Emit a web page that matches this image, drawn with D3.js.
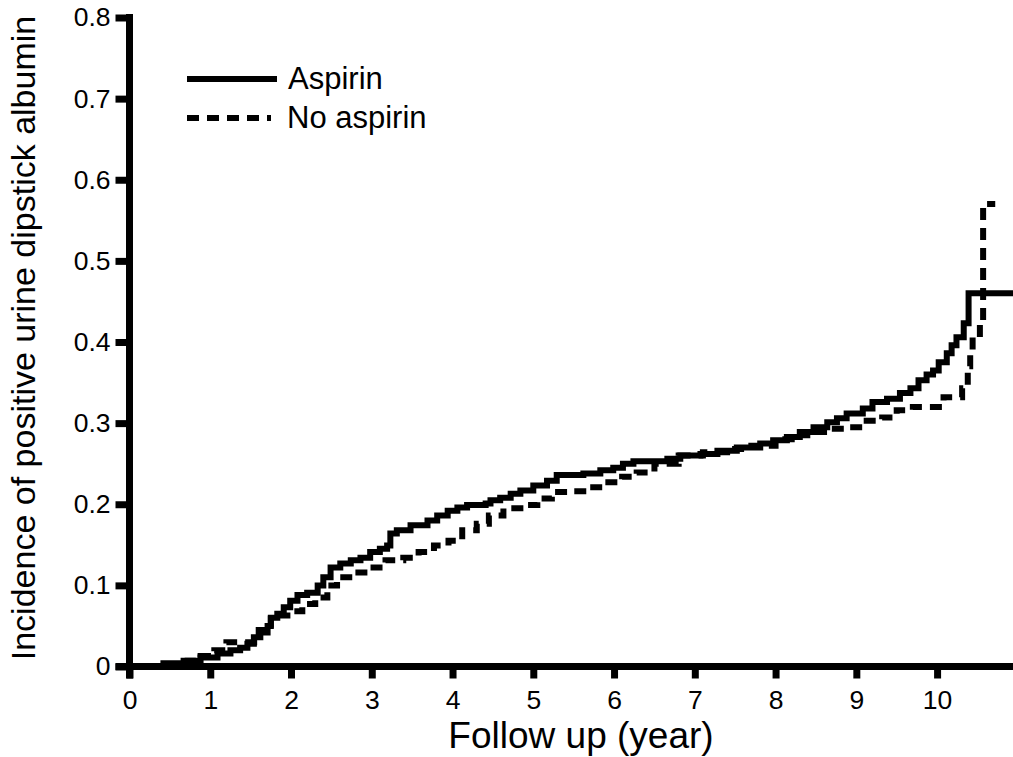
<!DOCTYPE html>
<html>
<head>
<meta charset="utf-8">
<script src="https://cdn.jsdelivr.net/npm/d3@7"></script>
<style>
  body { margin: 0; background: #fff; }
  text { font-family: "Liberation Sans", Arial, sans-serif; fill: #000; }
</style>
</head>
<body>
<svg width="1013" height="757"></svg>
<script>
// cumulative incidence (step curves)
const aspirinTime = [0, 0.42, 0.67, 0.88, 1.09, 1.25, 1.37, 1.46, 1.54, 1.62, 1.71, 1.75, 1.83, 1.91, 1.99, 2.08, 2.2, 2.33,
  2.4, 2.49, 2.61, 2.74, 2.86, 2.98, 3.1, 3.19, 3.23, 3.31, 3.48, 3.69, 3.81, 3.94, 4.06, 4.18, 4.41, 4.47, 4.59, 4.72,
  4.84, 5.0, 5.17, 5.29, 5.62, 5.83, 5.99, 6.11, 6.24, 6.66, 6.82, 7.07, 7.28, 7.52, 7.81, 7.97, 8.14, 8.3, 8.47, 8.64,
  8.76, 8.88, 9.08, 9.2, 9.38, 9.54, 9.67, 9.77, 9.87, 9.95, 10.02, 10.12, 10.18, 10.24, 10.33, 10.39, 10.94];
const aspirinValue = [0, 0.004, 0.007, 0.011, 0.016, 0.02, 0.023, 0.028, 0.036, 0.042, 0.05, 0.06, 0.065, 0.073, 0.081,
  0.088, 0.091, 0.1, 0.11, 0.122, 0.127, 0.131, 0.134, 0.141, 0.145, 0.149, 0.164, 0.168, 0.174, 0.18, 0.186, 0.192,
  0.196, 0.199, 0.201, 0.205, 0.208, 0.213, 0.217, 0.223, 0.229, 0.236, 0.238, 0.242, 0.245, 0.25, 0.253, 0.256, 0.26,
  0.262, 0.266, 0.27, 0.275, 0.279, 0.283, 0.289, 0.295, 0.301, 0.306, 0.312, 0.318, 0.326, 0.33, 0.337, 0.343, 0.353,
  0.36, 0.365, 0.375, 0.386, 0.396, 0.406, 0.423, 0.46, 0.46];

const noAspirinTime = [0, 0.5, 0.72, 0.88, 1.05, 1.2, 1.45, 1.6, 1.75, 2.0, 2.14, 2.3, 2.45, 2.57, 2.77, 2.98, 3.17,
  3.39, 3.58, 3.77, 3.95, 4.12, 4.3, 4.45, 4.63, 4.84, 5.05, 5.23, 5.48, 5.68, 5.89, 6.1, 6.28, 6.5, 6.8, 7.1, 7.4,
  7.7, 8.0, 8.2, 8.43, 8.65, 8.9, 9.08, 9.32, 9.5, 9.7, 10.08, 10.31, 10.38, 10.41, 10.44, 10.53, 10.57, 10.72];
const noAspirinValue = [0, 0.003, 0.007, 0.013, 0.02, 0.03, 0.03, 0.045, 0.063, 0.068, 0.077, 0.085, 0.1, 0.11, 0.116,
  0.122, 0.131, 0.134, 0.141, 0.149, 0.155, 0.168, 0.176, 0.186, 0.195, 0.199, 0.207, 0.215, 0.216, 0.221, 0.227,
  0.234, 0.239, 0.25, 0.26, 0.264, 0.268, 0.272, 0.28, 0.285, 0.289, 0.293, 0.295, 0.303, 0.307, 0.316, 0.32, 0.332,
  0.343, 0.37, 0.39, 0.41, 0.425, 0.57, 0.57];

const xTicks = [0, 1, 2, 3, 4, 5, 6, 7, 8, 9, 10];
const yTicks = [0, 0.1, 0.2, 0.3, 0.4, 0.5, 0.6, 0.7, 0.8];
const yTickLabels = ["0", "0.1", "0.2", "0.3", "0.4", "0.5", "0.6", "0.7", "0.8"];
const seriesNames = ["Aspirin", "No aspirin"];

const svg = d3.select("svg");
const AXIS_W = 7;

const x = d3.scaleLinear().domain([0, 10.94]).range([129.5, 1013]);
const y = d3.scaleLinear().domain([0, 0.8]).range([666.5, 17.5]);

const line = d3.line()
    .x(d => x(d[0]))
    .y(d => y(d[1]))
    .curve(d3.curveStepAfter);

const series = [
    { name: seriesNames[0], pts: d3.zip(aspirinTime, aspirinValue), dash: null },
    { name: seriesNames[1], pts: d3.zip(noAspirinTime, noAspirinValue), dash: "12,8" }
];

// curves
svg.append("g")
    .selectAll("path")
    .data(series)
    .enter().append("path")
        .attr("d", d => line(d.pts))
        .attr("fill", "none")
        .attr("stroke", "#000")
        .attr("stroke-width", 6)
        .attr("stroke-dasharray", d => d.dash);

// y axis
const gy = svg.append("g")
    .attr("transform", `translate(${x(0)},0)`)
    .call(d3.axisLeft(y)
        .tickValues(yTicks)
        .tickFormat((d, i) => yTickLabels[i])
        .tickSize(14)
        .tickSizeOuter(0)
        .tickPadding(5));
gy.select(".domain").remove();
gy.append("line")
    .attr("x1", 0).attr("x2", 0)
    .attr("y1", y(0.8) - AXIS_W / 2).attr("y2", y(0) + 12)
    .attr("stroke", "#000").attr("stroke-width", AXIS_W);
gy.selectAll(".tick line").attr("stroke-width", AXIS_W);
gy.selectAll(".tick text")
    .attr("font-size", 26.5)
    .attr("font-family", "Liberation Sans, Arial, sans-serif");

// x axis
const gx = svg.append("g")
    .attr("transform", `translate(0,${y(0)})`)
    .call(d3.axisBottom(x)
        .tickValues(xTicks)
        .tickSize(12)
        .tickSizeOuter(0)
        .tickPadding(12));
gx.select(".domain").remove();
gx.append("line")
    .attr("x1", x(0) - 14).attr("x2", 1013)
    .attr("y1", 0).attr("y2", 0)
    .attr("stroke", "#000").attr("stroke-width", AXIS_W);
gx.selectAll(".tick line").attr("stroke-width", AXIS_W);
gx.selectAll(".tick text")
    .attr("font-size", 26.5)
    .attr("font-family", "Liberation Sans, Arial, sans-serif");

// axis titles
svg.append("text")
    .attr("x", 581)
    .attr("y", 748)
    .attr("text-anchor", "middle")
    .attr("font-size", 37)
    .text("Follow up (year)");

svg.append("text")
    .attr("transform", "translate(35,338) rotate(-90)")
    .attr("text-anchor", "middle")
    .attr("font-size", 34)
    .text("Incidence of positive urine dipstick albumin");

// legend
const legend = svg.append("g")
    .selectAll("g")
    .data(series)
    .enter().append("g")
        .attr("transform", (d, i) => `translate(187,${79 + i * 39})`);
legend.append("line")
    .attr("x1", 0).attr("x2", d => d.dash ? 84 : 90)
    .attr("stroke", "#000")
    .attr("stroke-width", 6)
    .attr("stroke-dasharray", d => d.dash);
legend.append("text")
    .attr("x", d => d.dash ? 100 : 101)
    .attr("y", 10)
    .attr("font-size", 31)
    .text(d => d.name);
</script>
</body>
</html>
